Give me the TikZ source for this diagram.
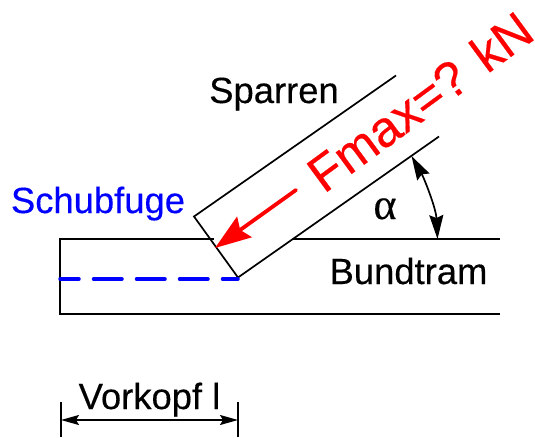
\documentclass[tikz,border=0pt]{standalone}
\usepackage{fontspec}
\newfontfamily\labelfont[FakeStretch=1.0,RawFeature={embolden=0.35}]{Liberation Sans}
\newfontfamily\alphafont[RawFeature={embolden=0.35}]{Liberation Serif}
\setmainfont{Liberation Sans}
\usetikzlibrary{arrows.meta}
\definecolor{pureblue}{RGB}{0,0,255}
\definecolor{purered}{RGB}{255,0,0}
\tikzset{
  lbl/.style={inner sep=0pt,font=\labelfont\fontsize{36.4}{40}\selectfont},
  edge/.style={line width=1.7pt,black},
}
\begin{document}
\begin{tikzpicture}[x=1pt,y=-1pt]
\useasboundingbox (0,0) rectangle (535,437);
% corners
\coordinate (rtl) at (194,216.5);
\coordinate (rbl) at (238,277.5);
\coordinate (rte) at (396,75.5);
\coordinate (rbe) at (439,136.5);
\coordinate (btl) at (60,239);
\coordinate (bbl) at (60,314);
\coordinate (btr) at (500,239);
\coordinate (bbr) at (500,314);
\coordinate (bi1) at (214,239);
\coordinate (bi2) at (293,239);
\coordinate (dash1) at (60,279);
\coordinate (dash2) at (238,279);
\coordinate (a1) at (411.5,156);
\coordinate (a2) at (437.5,239);
\coordinate (ft) at (215,248);
\coordinate (fb) at (296,190);
\coordinate (d1t) at (61,402);
\coordinate (d1b) at (61,437);
\coordinate (d2t) at (238,402);
\coordinate (d2b) at (238,437);
\coordinate (da) at (61,420);
\coordinate (db) at (238,420);
% lines
\draw[edge] (rbl) -- (rtl) -- (rte);
\draw[edge] (rbl) -- (rbe);
\draw[edge] (bi1) -- (btl) -- (bbl) -- (bbr);
\draw[edge] (bi2) -- (btr);
\draw[line width=3.5pt,pureblue,line cap=round,dash pattern=on 28.5pt off 14.5pt,dash phase=9.5pt] (dash1) -- (dash2);
\draw[line width=1.7pt,{Stealth[length=24pt,width=14pt,inset=3pt]}-{Stealth[length=24pt,width=14pt,inset=3pt]}] (a1) .. controls (424,178) and (436,208) .. (a2);
\draw[line width=3.8pt,purered,line cap=round,-{Stealth[length=36pt,width=25pt,inset=5pt]}] (fb) -- (ft);
\draw[edge] (d1t) -- (d1b);
\draw[edge] (d2t) -- (d2b);
\draw[line width=1.7pt,{Stealth[length=18pt,width=10pt,inset=3pt]}-{Stealth[length=18pt,width=10pt,inset=3pt]}] (da) -- (db);
% text
\node[lbl,anchor=base] (sparren) at (274,103) {Sparren};
\node[lbl,anchor=base,pureblue] (schub) at (98,213) {Schubfuge};
\node[lbl,anchor=base] (bund) at (408.5,284) {Bundtram};
\node[lbl,anchor=base] (vor) at (149.5,409) {Vorkopf l};
\node[inner sep=0pt,anchor=base,font=\fontsize{44}{48}\selectfont] (alpha) at (385,219) {\alphafont α};
\node[inner sep=0pt,anchor=base,purered,rotate=36.3,font=\labelfont\fontsize{50.5}{54}\selectfont] (fmax) at (430.5,116) {Fmax=? kN};
\end{tikzpicture}
\end{document}
